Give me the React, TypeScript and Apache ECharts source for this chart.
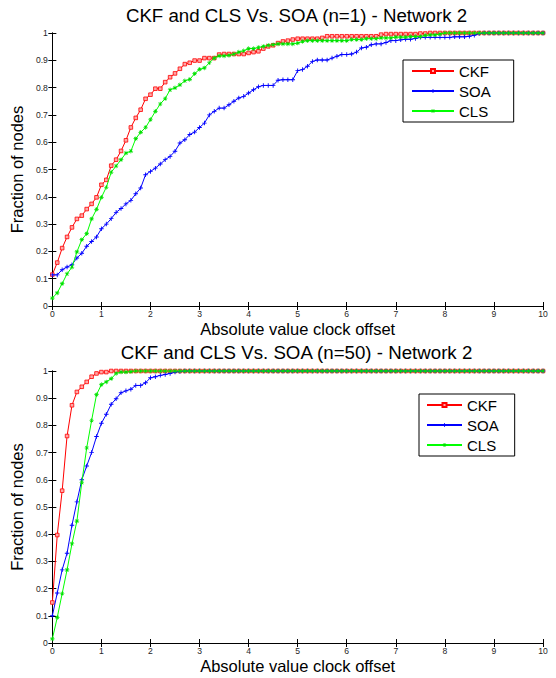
import React, { useEffect, useRef } from "react";
import * as echarts from "echarts";

// Absolute value clock offset (x positions of the samples)
const OFFSET = [
  0, 0.1, 0.2, 0.3, 0.4, 0.5, 0.6, 0.7, 0.8, 0.9,
  1, 1.1, 1.2, 1.3, 1.4, 1.5, 1.6, 1.7, 1.8, 1.9,
  2, 2.1, 2.2, 2.3, 2.4, 2.5, 2.6, 2.7, 2.8, 2.9,
  3, 3.1, 3.2, 3.3, 3.4, 3.5, 3.6, 3.7, 3.8, 3.9,
  4, 4.1, 4.2, 4.3, 4.4, 4.5, 4.6, 4.7, 4.8, 4.9,
  5, 5.1, 5.2, 5.3, 5.4, 5.5, 5.6, 5.7, 5.8, 5.9,
  6, 6.1, 6.2, 6.3, 6.4, 6.5, 6.6, 6.7, 6.8, 6.9,
  7, 7.1, 7.2, 7.3, 7.4, 7.5, 7.6, 7.7, 7.8, 7.9,
  8, 8.1, 8.2, 8.3, 8.4, 8.5, 8.6, 8.7, 8.8, 8.9,
  9, 9.1, 9.2, 9.3, 9.4, 9.5, 9.6, 9.7, 9.8, 9.9,
  10,
];

// Network 2, n=1
const CKF_N1 = [
  0.115, 0.159, 0.212, 0.253, 0.288, 0.319, 0.331, 0.355, 0.374, 0.398,
  0.444, 0.462, 0.514, 0.536, 0.568, 0.607, 0.654, 0.689, 0.719, 0.759,
  0.774, 0.796, 0.796, 0.82, 0.838, 0.852, 0.869, 0.886, 0.891, 0.899,
  0.899, 0.908, 0.908, 0.908, 0.921, 0.923, 0.923, 0.923, 0.923, 0.923,
  0.927, 0.93, 0.933, 0.943, 0.951, 0.955, 0.963, 0.969, 0.972, 0.976,
  0.979, 0.979, 0.979, 0.979, 0.979, 0.982, 0.988, 0.988, 0.988, 0.988,
  0.988, 0.988, 0.988, 0.988, 0.988, 0.988, 0.988, 0.994, 0.996, 0.996,
  0.996, 0.996, 0.996, 0.996, 0.996, 0.998, 0.998, 1, 1, 1,
  1, 1, 1, 1, 1, 1, 1, 1, 1, 1,
  1, 1, 1, 1, 1, 1, 1, 1, 1, 1,
  1,
];
const SOA_N1 = [
  0.114, 0.114, 0.133, 0.143, 0.151, 0.176, 0.193, 0.219, 0.236, 0.253,
  0.283, 0.3, 0.32, 0.343, 0.357, 0.374, 0.387, 0.411, 0.432, 0.481,
  0.493, 0.505, 0.52, 0.536, 0.548, 0.567, 0.597, 0.609, 0.628, 0.637,
  0.654, 0.67, 0.7, 0.713, 0.725, 0.725, 0.737, 0.75, 0.762, 0.768,
  0.78, 0.792, 0.803, 0.808, 0.808, 0.808, 0.827, 0.829, 0.829, 0.829,
  0.862, 0.866, 0.878, 0.896, 0.901, 0.901, 0.901, 0.908, 0.915, 0.921,
  0.921, 0.923, 0.93, 0.945, 0.948, 0.957, 0.96, 0.96, 0.965, 0.972,
  0.972, 0.975, 0.977, 0.977, 0.98, 0.984, 0.984, 0.984, 0.984, 0.984,
  0.984, 0.984, 0.986, 0.986, 0.986, 0.988, 0.992, 0.998, 1, 1,
  1, 1, 1, 1, 1, 1, 1, 1, 1, 1,
  1,
];
const CLS_N1 = [
  0.029, 0.048, 0.082, 0.118, 0.142, 0.198, 0.243, 0.265, 0.319, 0.354,
  0.398, 0.435, 0.49, 0.513, 0.536, 0.56, 0.567, 0.613, 0.636, 0.654,
  0.683, 0.713, 0.74, 0.76, 0.792, 0.799, 0.81, 0.825, 0.83, 0.851,
  0.867, 0.872, 0.891, 0.908, 0.916, 0.916, 0.918, 0.923, 0.93, 0.935,
  0.943, 0.943, 0.947, 0.951, 0.955, 0.957, 0.96, 0.96, 0.96, 0.96,
  0.963, 0.969, 0.972, 0.972, 0.972, 0.972, 0.972, 0.972, 0.972, 0.972,
  0.972, 0.976, 0.976, 0.976, 0.979, 0.979, 0.979, 0.982, 0.982, 0.982,
  0.985, 0.985, 0.985, 0.987, 0.987, 0.987, 0.991, 0.993, 0.993, 0.996,
  1, 1, 1, 1, 1, 1, 1, 1, 1, 1,
  1, 1, 1, 1, 1, 1, 1, 1, 1, 1,
  1,
];

// Network 2, n=50
const CKF_N50 = [
  0.149, 0.397, 0.56, 0.761, 0.874, 0.923, 0.942, 0.96, 0.979, 0.991,
  0.996, 0.996, 1, 1, 1, 1, 1, 1, 1, 1,
  1, 1, 1, 1, 1, 1, 1, 1, 1, 1,
  1, 1, 1, 1, 1, 1, 1, 1, 1, 1,
  1, 1, 1, 1, 1, 1, 1, 1, 1, 1,
  1, 1, 1, 1, 1, 1, 1, 1, 1, 1,
  1, 1, 1, 1, 1, 1, 1, 1, 1, 1,
  1, 1, 1, 1, 1, 1, 1, 1, 1, 1,
  1, 1, 1, 1, 1, 1, 1, 1, 1, 1,
  1, 1, 1, 1, 1, 1, 1, 1, 1, 1,
  1,
];
const SOA_N50 = [
  0.1, 0.184, 0.269, 0.33, 0.433, 0.519, 0.6, 0.651, 0.7, 0.759,
  0.808, 0.841, 0.878, 0.898, 0.92, 0.927, 0.933, 0.947, 0.947, 0.957,
  0.975, 0.979, 0.984, 0.987, 0.991, 0.996, 0.998, 1, 1, 1,
  1, 1, 1, 1, 1, 1, 1, 1, 1, 1,
  1, 1, 1, 1, 1, 1, 1, 1, 1, 1,
  1, 1, 1, 1, 1, 1, 1, 1, 1, 1,
  1, 1, 1, 1, 1, 1, 1, 1, 1, 1,
  1, 1, 1, 1, 1, 1, 1, 1, 1, 1,
  1, 1, 1, 1, 1, 1, 1, 1, 1, 1,
  1, 1, 1, 1, 1, 1, 1, 1, 1, 1,
  1,
];
const CLS_N50 = [
  0.015, 0.094, 0.182, 0.269, 0.365, 0.448, 0.59, 0.717, 0.818, 0.913,
  0.95, 0.96, 0.972, 0.991, 0.996, 0.996, 0.998, 1, 1, 1,
  1, 1, 1, 1, 1, 1, 1, 1, 1, 1,
  1, 1, 1, 1, 1, 1, 1, 1, 1, 1,
  1, 1, 1, 1, 1, 1, 1, 1, 1, 1,
  1, 1, 1, 1, 1, 1, 1, 1, 1, 1,
  1, 1, 1, 1, 1, 1, 1, 1, 1, 1,
  1, 1, 1, 1, 1, 1, 1, 1, 1, 1,
  1, 1, 1, 1, 1, 1, 1, 1, 1, 1,
  1, 1, 1, 1, 1, 1, 1, 1, 1, 1,
  1,
];

const SERIES_NAMES = ["CKF", "SOA", "CLS"];
const TITLES = [
  "CKF and CLS Vs. SOA (n=1) - Network 2",
  "CKF and CLS Vs. SOA (n=50) - Network 2",
];
const X_NAME = "Absolute value clock offset";
const Y_NAME = "Fraction of nodes";

const FONT = "'Liberation Sans', Arial, Helvetica, sans-serif";
const PLUS = "path://M2,0H3V2H5V3H3V5H2V3H0V2H2Z";
const STAR =
  "path://M3,0H4V3H7V4H4V7H3V4H0V3H3Z M0.6,1.3L1.3,0.6L6.4,5.7L5.7,6.4Z M5.7,0.6L6.4,1.3L1.3,6.4L0.6,5.7Z";

function pairs(ys: number[]) {
  return OFFSET.map((x, i) => [x, ys[i]]);
}

function mkSeries(name: string, ys: number[], gi: number) {
  const base: any = {
    name,
    type: "line",
    xAxisIndex: gi * 2,
    yAxisIndex: gi * 2,
    data: pairs(ys),
    clip: false,
    lineStyle: { width: 1 },
    emphasis: { disabled: true },
  };
  if (name === "CKF") {
    base.symbol = "rect";
    base.symbolSize = 3.6;
    base.lineStyle.color = "#ff0000";
    base.itemStyle = { color: "#ffa8a8", borderColor: "#ff0000", borderWidth: 0.8 };
    base.z = 2;
  } else if (name === "SOA") {
    base.symbol = PLUS;
    base.symbolSize = 4.5;
    base.lineStyle.color = "#0000ff";
    base.itemStyle = { color: "#0000ff" };
    base.z = 3;
  } else {
    base.symbol = STAR;
    base.symbolSize = 4.5;
    base.lineStyle.color = "#00ff00";
    base.itemStyle = { color: "#00e000" };
    base.z = 4;
  }
  return base;
}

export default function App() {
  const ref = useRef<HTMLDivElement>(null);
  useEffect(() => {
    if (!ref.current) return;
    const chart = echarts.init(ref.current, null, { renderer: "svg" });
    const grids = [
      { left: 50, top: 33, width: 493, height: 273 },
      { left: 50, top: 371, width: 493, height: 272 },
    ];
    const axisLine = { show: true, lineStyle: { color: "#000", width: 1 } };
    const tick = { show: true, inside: true, length: 4, lineStyle: { color: "#000", width: 1 } };
    const tickLabel = { fontSize: 8.6, color: "#262626", fontFamily: FONT };
    const xAxes: any[] = [];
    const yAxes: any[] = [];
    grids.forEach((_, gi) => {
      xAxes.push({
        gridIndex: gi,
        type: "value",
        position: "bottom",
        min: 0,
        max: 10,
        interval: 1,
        axisLine,
        axisTick: tick,
        splitLine: { show: false },
        axisLabel: { ...tickLabel, margin: 3 },
        name: X_NAME,
        nameLocation: "middle",
        nameGap: 14,
        nameTextStyle: { fontSize: 16.5, color: "#000", fontFamily: FONT },
      });
      xAxes.push({
        gridIndex: gi,
        type: "value",
        position: "top",
        min: 0,
        max: 10,
        interval: 1,
        axisLine,
        axisTick: tick,
        splitLine: { show: false },
        axisLabel: { show: false },
      });
      yAxes.push({
        gridIndex: gi,
        type: "value",
        position: "left",
        min: 0,
        max: 1,
        interval: 0.1,
        axisLine,
        axisTick: tick,
        splitLine: { show: false },
        axisLabel: { ...tickLabel, margin: 4.5 },
        name: Y_NAME,
        nameLocation: "middle",
        nameGap: 19,
        nameTextStyle: { fontSize: 16.5, color: "#000", fontFamily: FONT },
      });
      yAxes.push({
        gridIndex: gi,
        type: "value",
        position: "right",
        min: 0,
        max: 1,
        interval: 0.1,
        axisLine,
        axisTick: tick,
        splitLine: { show: false },
        axisLabel: { show: false },
      });
    });

    const series = [
      mkSeries("CKF", CKF_N1, 0),
      mkSeries("SOA", SOA_N1, 0),
      mkSeries("CLS", CLS_N1, 0),
      mkSeries("CKF", CKF_N50, 1),
      mkSeries("SOA", SOA_N50, 1),
      mkSeries("CLS", CLS_N50, 1),
    ];

    const legendBase = {
      data: SERIES_NAMES,
      orient: "vertical",
      backgroundColor: "#fff",
      borderColor: "#000",
      borderWidth: 1,
      borderRadius: 0,
      itemHeight: 5,
      itemGap: 5,
      selectedMode: false,
      textStyle: { fontSize: 15, color: "#000", fontFamily: FONT },
    };

    chart.setOption({
      animation: false,
      backgroundColor: "#fff",
      textStyle: { fontFamily: FONT },
      title: TITLES.map((t, i) => ({
        text: t,
        left: 296.5,
        top: i === 0 ? 6 : 343,
        padding: 0,
        textAlign: "center",
        textStyle: { fontSize: 18.7, fontWeight: "normal", color: "#000", fontFamily: FONT },
      })),
      legend: [
        { ...legendBase, left: 403, top: 60, itemWidth: 42, padding: [3.5, 23, 3.5, 8] },
        { ...legendBase, left: 419, top: 394, itemWidth: 35, padding: [3.5, 16, 3.5, 7] },
      ],
      grid: grids,
      xAxis: xAxes,
      yAxis: yAxes,
      series,
    });
    return () => chart.dispose();
  }, []);
  return (
    <div
      ref={ref}
      style={{ position: "fixed", left: 0, top: 0, width: 556, height: 678, background: "#fff" }}
    />
  );
}
